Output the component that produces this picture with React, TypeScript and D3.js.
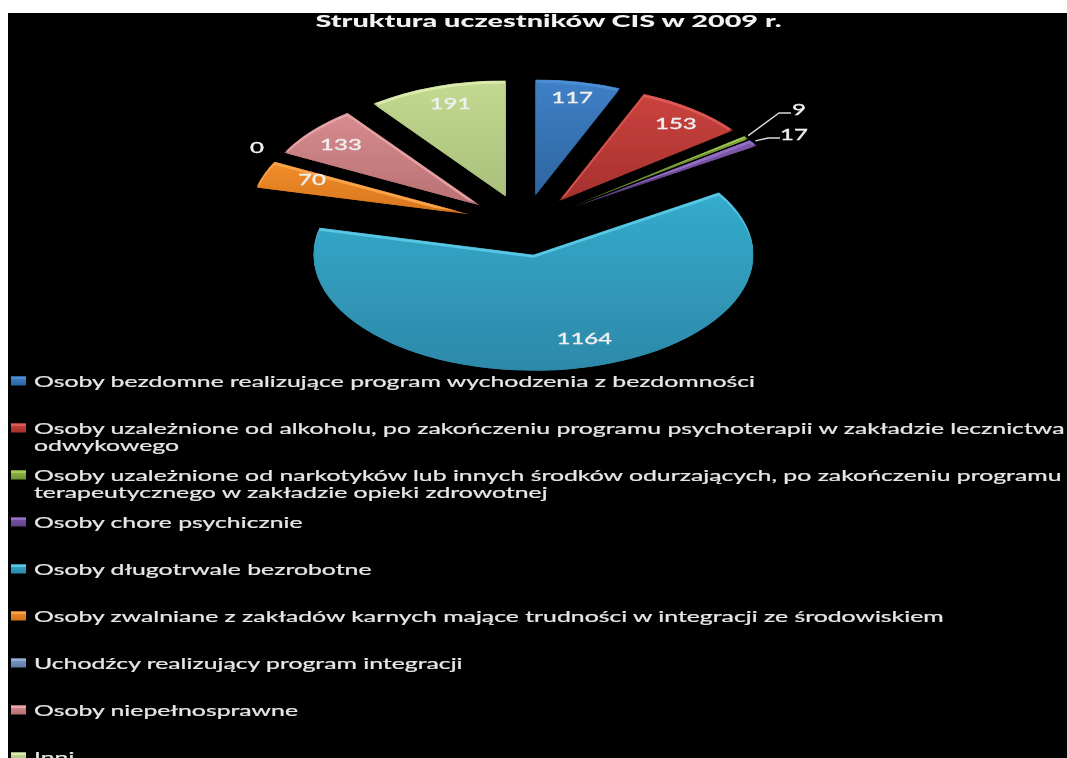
import React from 'react'
import * as d3 from 'd3'

const title = 'Struktura uczestników CIS w 2009 r.'
const values = [117, 153, 9, 17, 1164, 70, 0, 133, 191]
const legendLines = [
  ['Osoby bezdomne realizujące program wychodzenia z bezdomności'],
  ['Osoby uzależnione od alkoholu, po zakończeniu programu psychoterapii w zakładzie lecznictwa', 'odwykowego'],
  ['Osoby uzależnione od narkotyków lub innych środków odurzających, po zakończeniu programu', 'terapeutycznego w zakładzie opieki zdrowotnej'],
  ['Osoby chore psychicznie'],
  ['Osoby długotrwale bezrobotne'],
  ['Osoby zwalniane z zakładów karnych mające trudności w integracji ze środowiskiem'],
  ['Uchodźcy realizujący program integracji'],
  ['Osoby niepełnosprawne'],
  ['Inni']
]
const lightColors = ['#4d8fd6', '#de5a55', '#a5cc55', '#9470c4', '#58c8e4', '#fba64c', '#95add6', '#e8a4a6', '#dcecae']
const topColors = ['#3f80c6', '#c9423e', '#8fb945', '#7d58ab', '#34abcb', '#f08c2a', '#7e9ac8', '#d58b8e', '#c3d890']
const bottomColors = ['#2d639f', '#a5302d', '#6f9333', '#5f4186', '#2d88a8', '#d4741c', '#5f7ba8', '#b87073', '#a9bf7b']

const width = 1067
const height = 758
const cx = 524
const cy = 225
const rx = 220
const ry = 116
const explode = 0.26
const textStretch = 1.55
const titleStretch = 1.65
const fontFamily = 'Lato, sans-serif'

// slices that need moving away from the default label radius
const labelNudge: Record<number, [number, number]> = {
  0: [0, -1],
  1: [3, 0],
  4: [20, -14],
  5: [17, -1],
  7: [4, 2],
  8: [4, 0],
}
const labelFixed: Record<number, [number, number]> = { 2: [799, 109], 3: [794, 134], 6: [257, 147] }
const leaderElbow: Record<number, [number, number][]> = {
  2: [[779, 113], [791, 113]],
  3: [[768, 138], [780, 138]],
}

export default function App() {
  const k = ry / rx
  const pie = d3.pie<number>().sort(null)
  const arcs = pie(values)
  const arc = d3.arc<d3.PieArcDatum<number>>().innerRadius(0).outerRadius(rx)
  const at = (r: number) => d3.arc<d3.PieArcDatum<number>>().innerRadius(r).outerRadius(r)
  const point = (r: number, d: d3.PieArcDatum<number>): [number, number] => {
    const [x, y] = at(r).centroid(d)
    return [x, y * k]
  }

  return (
    <svg
      width={width}
      height={height}
      style={{ position: 'absolute', left: 0, top: 0, display: 'block' }}
      fontFamily={fontFamily}>
      <defs>
        <filter id='soft' x='-5%' y='-5%' width='110%' height='110%'>
          <feGaussianBlur stdDeviation='0.6' />
        </filter>
        {topColors.map((c, i) => (
          <linearGradient key={i} id={`grad${i}`} x1='0' y1='0' x2='0' y2='1'>
            <stop offset='0' stopColor={c} />
            <stop offset='1' stopColor={bottomColors[i]} />
          </linearGradient>
        ))}
      </defs>

      <rect width={width} height={height} fill='#fff' />
      <rect x={8} y={13} width={width - 8} height={height - 13} fill='#000' />

      <svg x={8} y={13} width={width - 8} height={height - 13} overflow='hidden'>
        <g transform='translate(-8,-13)' filter='url(#soft)'>
          <text
            transform={`translate(548.5,27) scale(${titleStretch},1)`}
            textAnchor='middle'
            fontSize={17.5}
            fontWeight={900}
            fill='#f2f2f2'>
            {title}
          </text>

          {arcs.map((d, i) => {
            const [ox, oy] = point(rx * explode, d)
            const path = arc(d) || ''
            return (
              <g key={i} transform={`translate(${cx + ox},${cy + oy})`}>
                <clipPath id={`clip${i}`}>
                  <path d={path} transform={`scale(1,${k})`} />
                </clipPath>
                <g clipPath={`url(#clip${i})`}>
                  <path d={path} transform={`scale(1,${k})`} fill={bottomColors[i]} />
                  <path d={path} transform={`translate(0,-2) scale(1,${k})`} fill={lightColors[i]} />
                  <path d={path} transform={`translate(0,3) scale(1,${k})`} fill={`url(#grad${i})`} />
                  <path d={path} transform={`scale(1,${k})`} fill='none' stroke={bottomColors[i]} strokeWidth={2} opacity={0.35} />
                </g>
              </g>
            )
          })}

          {arcs.map((d, i) => {
            const [ox, oy] = point(rx * explode, d)
            const [tx, ty] = point(rx, d)
            const pts = leaderElbow[i]
            if (!pts) return null
            const line = d3.line()([[cx + ox + tx + 2, cy + oy + ty - 2], ...pts])
            return <path key={i} d={line || ''} fill='none' stroke='#d9d9d9' strokeWidth={1.4} />
          })}

          {arcs.map((d, i) => {
            const [ox, oy] = point(rx * explode, d)
            const [lx, ly] = point(rx * 0.85, d)
            const nudge = labelNudge[i] || [0, 0]
            const pos = labelFixed[i] || [cx + ox + lx + nudge[0], cy + oy + ly + nudge[1]]
            return (
              <text
                key={i}
                transform={`translate(${pos[0]},${pos[1]}) scale(1.5,1)`}
                textAnchor='middle'
                dy='.35em'
                fontSize={16}
                stroke='#f0f0f0'
                strokeWidth={0.35}
                fill='#f0f0f0'>
                {values[i]}
              </text>
            )
          })}

          {legendLines.map((lines, i) => {
            const y = 381 + i * 47
            return (
              <g key={i} transform={`translate(0,${y})`}>
                <rect x={11} y={-4.5} width={15} height={9} fill={`url(#grad${i})`} />
                <rect x={11} y={-4.5} width={15} height={2.5} fill={lightColors[i]} />
                {lines.map((line, j) => (
                  <text
                    key={j}
                    transform={`translate(34,${6 + j * 17}) scale(${textStretch},1)`}
                    fontSize={16}
                    stroke='#e6e6e6'
                    strokeWidth={0.25}
                    fill='#e6e6e6'>
                    {line}
                  </text>
                ))}
              </g>
            )
          })}
        </g>
      </svg>
    </svg>
  )
}
